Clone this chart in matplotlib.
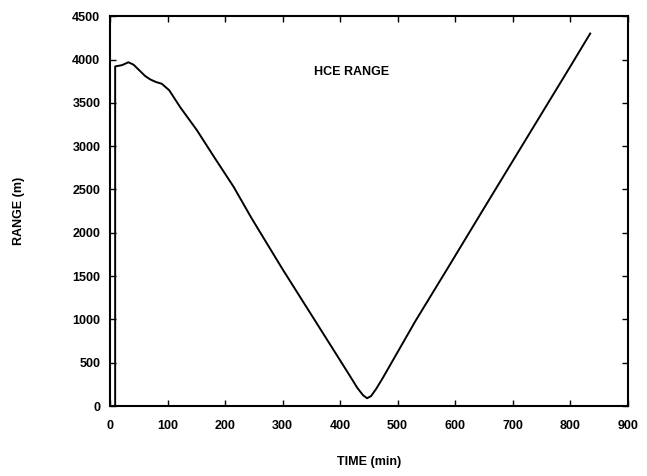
import numpy as np
import matplotlib.pyplot as plt

plt.rcParams['font.family'] = ['Liberation Sans', 'DejaVu Sans']

# HCE range vs time
time_min = [9, 9, 21, 32, 41, 51, 61, 70, 80, 90, 103, 122, 151, 181, 215, 246,
            300, 359, 416, 430, 440, 447, 454, 463, 474, 531, 588, 650, 700, 750,
            800, 835]
range_m = [0, 3920, 3935, 3968, 3940, 3875, 3810, 3770, 3740, 3720, 3645, 3450,
           3185, 2875, 2530, 2170, 1580, 960, 360, 210, 125, 90, 115, 200, 320,
           980, 1600, 2280, 2825, 3370, 3915, 4300]

xticks = [0, 100, 200, 300, 400, 500, 600, 700, 800, 900]
yticks = [0, 500, 1000, 1500, 2000, 2500, 3000, 3500, 4000, 4500]

fig = plt.figure(figsize=(6.47, 4.76), dpi=100)
ax = fig.add_axes([0.170, 0.147, 0.800, 0.819])

ax.plot(time_min, range_m, color='black', lw=1.4)

ax.set_xlim(0, 900)
ax.set_ylim(0, 4500)
ax.set_xticks(xticks)
ax.set_yticks(yticks)
ax.tick_params(direction='in', length=4, width=1, top=True, right=True,
               labelsize=9)
ax.tick_params(axis='x', pad=10)
ax.tick_params(axis='y', pad=7)
for lab in ax.get_xticklabels() + ax.get_yticklabels():
    lab.set_fontweight('bold')
for s in ax.spines.values():
    s.set_linewidth(1.5)

ax.text(420, 3850, 'HCE RANGE', ha='center', va='center', fontsize=9, fontweight='bold')
ax.set_xlabel('TIME (min)', fontsize=9, fontweight='bold', labelpad=17)
ax.set_ylabel('RANGE (m)', fontsize=9, fontweight='bold', labelpad=34)

fig.savefig('out.png', dpi=100)
